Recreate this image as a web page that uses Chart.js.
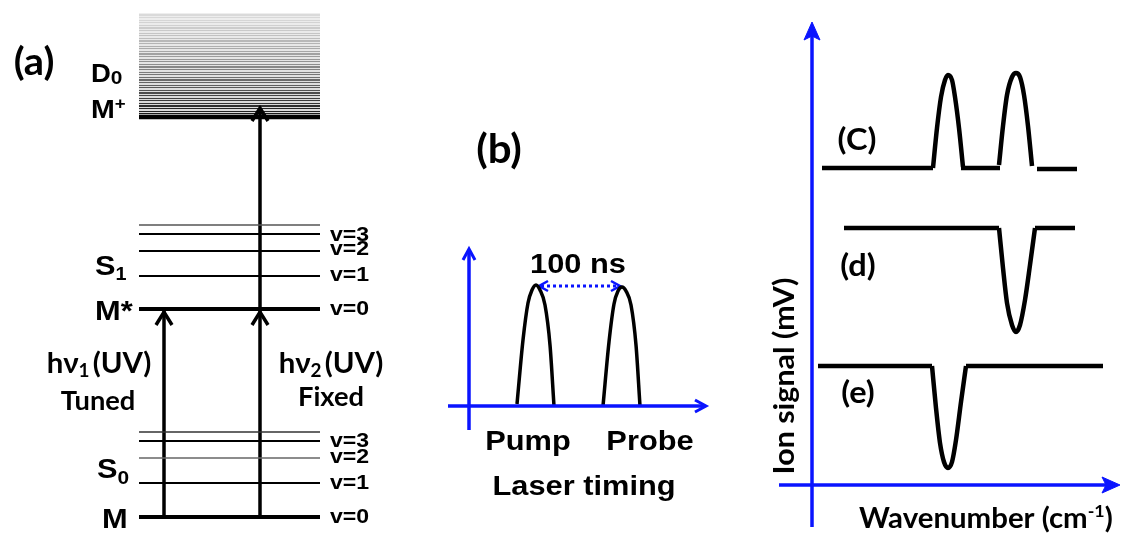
<!DOCTYPE html>
<html>
<head>
<meta charset="utf-8">
<script src="https://cdn.jsdelivr.net/npm/chart.js@4/dist/chart.umd.min.js"></script>
<style>
  html, body { margin: 0; padding: 0; background: #fff; }
  #wrap { width: 1121px; height: 538px; }
</style>
</head>
<body>
<div id="wrap"><canvas id="diagram" width="1121" height="538"></canvas></div>
<script>
// Diagram units: x runs left to right, y runs top to bottom (same as the page).

// (a) energy level scheme
const levelSpan = [139, 320];
const ionLimit = 117;                 // M+ / D0 threshold
const continuumTop = 13;
const s1Levels = [309, 276, 251, 234, 225];   // v=0, v=1, v=2, v=3 (+ upper)
const s0Levels = [517, 483, 458, 441, 432];   // v=0, v=1, v=2, v=3 (+ upper)
const pumpArrowX = 164;
const probeArrowX = 260;

// (b) laser timing pulses
const pumpPulse = [[517, 404], [523, 340], [528, 303], [532, 290], [536, 285], [540, 290], [545, 305], [550, 345], [554, 406]];
const probePulse = [[603, 406], [609, 342], [614, 304], [618, 291], [622, 287], [626, 291], [631, 305], [636, 345], [640, 406]];
const delayMarker = [539, 620];       // 100 ns between peaks

// (c)-(e) ion signal traces
const traceC = [
  [[822, 168], [933, 168]],
  [[933, 168], [937, 128], [941, 97], [945, 80], [948, 75], [952, 80], [955, 97], [959, 128], [963, 167]],
  [[961, 168], [1000, 168]],
  [[999, 165], [1003, 126], [1007, 95], [1012, 77], [1016, 73], [1020, 77], [1024, 95], [1028, 126], [1032, 166]],
  [[1037, 169], [1077, 169]]
];
const traceD = [
  [[844, 228], [999, 228]],
  [[999, 228], [1003, 268], [1007, 303], [1012, 325], [1016, 332], [1020, 325], [1025, 300], [1030, 265], [1035, 228]],
  [[1035, 228], [1075, 228]]
];
const traceE = [
  [[818, 366], [932, 366]],
  [[932, 366], [936, 408], [940, 443], [944, 462], [948, 468], [952, 462], [956, 440], [961, 402], [966, 366]],
  [[966, 366], [1103, 366]]
];

const BLACK = '#000';
const BLUE = '#0a14ff';
const ARIAL = '"Liberation Sans", Arial, sans-serif';
const CALIBRI = 'Lato, "Open Sans", sans-serif';
const stretch = { [ARIAL]: 1.1, [CALIBRI]: 1.05 };

const pts = arr => arr.map(([x, y]) => ({ x, y }));

function line(data, opts = {}) {
  return Object.assign({
    data: pts(data),
    borderColor: BLACK,
    borderWidth: 2,
    pointRadius: 0,
    fill: false,
    tension: 0,
    borderCapStyle: 'butt'
  }, opts);
}

function chevronUp(x, y, w, h) { return [[x - w, y + h], [x, y], [x + w, y + h]]; }
function chevronRight(x, y, w, h) { return [[x - h, y - w], [x, y], [x - h, y + w]]; }
function chevronLeft(x, y, w, h) { return [[x + h, y - w], [x, y], [x + h, y + w]]; }

// striped grey gradient for the ionisation continuum
function continuumFill(c) {
  const chart = c.chart;
  if (!chart.chartArea) return '#aaa';
  const top = chart.scales.y.getPixelForValue(continuumTop);
  const bot = chart.scales.y.getPixelForValue(ionLimit);
  const g = chart.ctx.createLinearGradient(0, top, 0, bot);
  const n = 40;
  for (let i = 0; i < n; i++) {
    const t = i / n;
    const dark = Math.round(218 - 205 * Math.pow(t, 1.3));
    const gap = Math.round(238 - 22 * t);
    const d = `rgb(${dark},${dark},${dark})`;
    const l = `rgb(${gap},${gap},${gap})`;
    g.addColorStop(t, l);
    g.addColorStop(t + 0.5 / n, l);
    g.addColorStop(t + 0.5 / n + 0.0001, d);
    g.addColorStop(Math.min(1, (i + 1) / n - 0.0001), d);
  }
  return g;
}

const datasets = [];

// continuum block and M+ threshold
datasets.push(line([[levelSpan[0], continuumTop], [levelSpan[1], continuumTop]], {
  borderWidth: 0, fill: { value: ionLimit }, backgroundColor: continuumFill
}));
datasets.push(line([[levelSpan[0], ionLimit], [levelSpan[1], ionLimit]], { borderWidth: 4.5 }));

// vibrational levels
const s1Style = [
  { borderWidth: 4 },
  { borderWidth: 2 },
  { borderWidth: 2 },
  { borderWidth: 2 },
  { borderWidth: 1.5, borderColor: '#555' }
];
const s0Style = [
  { borderWidth: 4 },
  { borderWidth: 2 },
  { borderWidth: 1.5, borderColor: '#666' },
  { borderWidth: 2.2 },
  { borderWidth: 1.5, borderColor: '#333' }
];
s1Levels.forEach((y, i) => datasets.push(line([[levelSpan[0], y], [levelSpan[1], y]], s1Style[i])));
s0Levels.forEach((y, i) => datasets.push(line([[levelSpan[0], y], [levelSpan[1], y]], s0Style[i])));

// excitation arrows
const arrowStyle = { borderWidth: 3.5, borderJoinStyle: 'miter' };
datasets.push(line([[pumpArrowX, s0Levels[0]], [pumpArrowX, s1Levels[0] + 2]], arrowStyle));
datasets.push(line(chevronUp(pumpArrowX, s1Levels[0] + 3, 8, 13), arrowStyle));
datasets.push(line([[probeArrowX, s0Levels[0]], [probeArrowX, ionLimit - 8]], arrowStyle));
datasets.push(line(chevronUp(probeArrowX, s1Levels[0] + 3, 8, 13), arrowStyle));
datasets.push(line(chevronUp(probeArrowX, ionLimit - 9, 8, 13), arrowStyle));

// (b) axes
const blueAxis = { borderColor: BLUE, borderWidth: 3.5 };
datasets.push(line([[469, 430], [469, 250]], blueAxis));
datasets.push(line(chevronUp(469, 249, 6, 11), { borderColor: BLUE, borderWidth: 3 }));
datasets.push(line([[448, 406], [705, 406]], blueAxis));
datasets.push(line(chevronRight(706, 406, 6, 11), { borderColor: BLUE, borderWidth: 3 }));

// (b) pulses and delay marker
const pulseStyle = { borderWidth: 3.5, cubicInterpolationMode: 'monotone' };
datasets.push(line(pumpPulse, pulseStyle));
datasets.push(line(probePulse, pulseStyle));
datasets.push(line([[delayMarker[0] + 2, 286], [delayMarker[1] - 2, 286]], { borderColor: BLUE, borderWidth: 3, borderDash: [3, 3] }));
datasets.push(line(chevronLeft(delayMarker[0], 286, 5, 9), { borderColor: BLUE, borderWidth: 2.5 }));
datasets.push(line(chevronRight(delayMarker[1], 286, 5, 9), { borderColor: BLUE, borderWidth: 2.5 }));

// (c)-(e) axes
datasets.push(line([[812, 527], [812, 34]], blueAxis));
datasets.push(line([[804, 40], [812, 22], [820, 40], [812, 36], [804, 40]], {
  borderColor: BLUE, borderWidth: 1, fill: 'shape', backgroundColor: BLUE
}));
datasets.push(line([[779, 485], [1108, 485]], blueAxis));
datasets.push(line([[1102, 477], [1120, 485], [1102, 493], [1106, 485], [1102, 477]], {
  borderColor: BLUE, borderWidth: 1, fill: 'shape', backgroundColor: BLUE
}));

// (c)-(e) traces
const traceStyle = { borderWidth: 4.5, cubicInterpolationMode: 'monotone' };
[traceC, traceD, traceE].forEach(tr => tr.forEach(seg => datasets.push(line(seg, traceStyle))));

// text runs: each label is a list of [text, size, baseline shift]
const labels = [
  { x: 34, y: 75, align: 'center', font: CALIBRI, runs: [['(a)', 38, 0]] },
  { x: 91, y: 82, font: ARIAL, runs: [['D', 25, 0], ['0', 19, 2]] },
  { x: 91, y: 118, font: ARIAL, runs: [['M', 26, 0], ['+', 17, -9]] },
  { x: 95, y: 275, font: ARIAL, runs: [['S', 28, 0], ['1', 18, 5]] },
  { x: 95, y: 320, font: ARIAL, runs: [['M*', 28, 0]] },
  { x: 97, y: 478, font: ARIAL, runs: [['S', 28, 0], ['0', 19, 6]] },
  { x: 102, y: 528, font: ARIAL, runs: [['M', 28, 0]] },
  { x: 330, y: 241, font: ARIAL, runs: [['v=3', 21, 0]] },
  { x: 330, y: 255, font: ARIAL, runs: [['v=2', 21, 0]] },
  { x: 330, y: 281, font: ARIAL, runs: [['v=1', 21, 0]] },
  { x: 330, y: 315, font: ARIAL, runs: [['v=0', 21, 0]] },
  { x: 330, y: 447, font: ARIAL, runs: [['v=3', 21, 0]] },
  { x: 330, y: 463, font: ARIAL, runs: [['v=2', 21, 0]] },
  { x: 330, y: 489, font: ARIAL, runs: [['v=1', 21, 0]] },
  { x: 330, y: 523, font: ARIAL, runs: [['v=0', 21, 0]] },
  { x: 99, y: 373, align: 'center', font: CALIBRI, runs: [['hν', 28, 0], ['1', 18, 4], [' ', 12, 0], ['(UV)', 28, 0]] },
  { x: 98, y: 410, align: 'center', font: CALIBRI, runs: [['Tuned', 26, 0]] },
  { x: 331, y: 373, align: 'center', font: CALIBRI, runs: [['hν', 28, 0], ['2', 18, 4], [' ', 12, 0], ['(UV)', 28, 0]] },
  { x: 331, y: 406, align: 'center', font: CALIBRI, runs: [['Fixed', 26, 0]] },
  { x: 499, y: 163, align: 'center', font: CALIBRI, runs: [['(b)', 40, 0]] },
  { x: 578, y: 273, align: 'center', font: ARIAL, runs: [['100 ns', 28, 0]] },
  { x: 528, y: 450, align: 'center', font: ARIAL, runs: [['Pump', 28, 0]] },
  { x: 650, y: 450, align: 'center', font: ARIAL, runs: [['Probe', 28, 0]] },
  { x: 584, y: 495, align: 'center', font: ARIAL, runs: [['Laser timing', 28, 0]] },
  { x: 857, y: 150, align: 'center', font: CALIBRI, runs: [['(C)', 31, 0]] },
  { x: 858, y: 276, align: 'center', font: CALIBRI, runs: [['(d)', 31, 0]] },
  { x: 858, y: 403, align: 'center', font: CALIBRI, runs: [['(e)', 31, 0]] },
  { x: 859, y: 528, font: CALIBRI, runs: [['Wavenumber (cm', 28, 0], ['-1', 17, -11], [')', 28, 0]] },
  { x: 794, y: 376, align: 'center', rotate: -Math.PI / 2, font: CALIBRI, runs: [['Ion signal (mV)', 29, 0]] }
];

const textPlugin = {
  id: 'diagramText',
  afterDatasetsDraw(chart) {
    const { ctx, scales: { x: xs, y: ys } } = chart;
    ctx.save();
    ctx.fillStyle = BLACK;
    ctx.textBaseline = 'alphabetic';
    ctx.textAlign = 'left';
    labels.forEach(lab => {
      const widths = lab.runs.map(([t, s]) => {
        ctx.font = `bold ${s}px ${lab.font}`;
        return ctx.measureText(t).width;
      });
      const total = widths.reduce((a, b) => a + b, 0);
      ctx.save();
      ctx.translate(xs.getPixelForValue(lab.x), ys.getPixelForValue(lab.y));
      if (lab.rotate) ctx.rotate(lab.rotate);
      ctx.scale(stretch[lab.font] || 1, 1);
      let cx = lab.align === 'center' ? -total / 2 : 0;
      lab.runs.forEach(([t, s, dy], i) => {
        ctx.font = `bold ${s}px ${lab.font}`;
        ctx.fillText(t, cx, dy);
        cx += widths[i];
      });
      ctx.restore();
    });
    ctx.restore();
  }
};

new Chart(document.getElementById('diagram'), {
  type: 'line',
  data: { datasets },
  options: {
    responsive: false,
    animation: false,
    events: [],
    layout: { padding: 0 },
    plugins: {
      legend: { display: false },
      tooltip: { enabled: false },
      filler: { drawTime: 'beforeDatasetsDraw' }
    },
    scales: {
      x: { type: 'linear', min: 0, max: 1121, display: false },
      y: { type: 'linear', min: 0, max: 538, reverse: true, display: false }
    }
  },
  plugins: [textPlugin]
});
</script>
</body>
</html>
